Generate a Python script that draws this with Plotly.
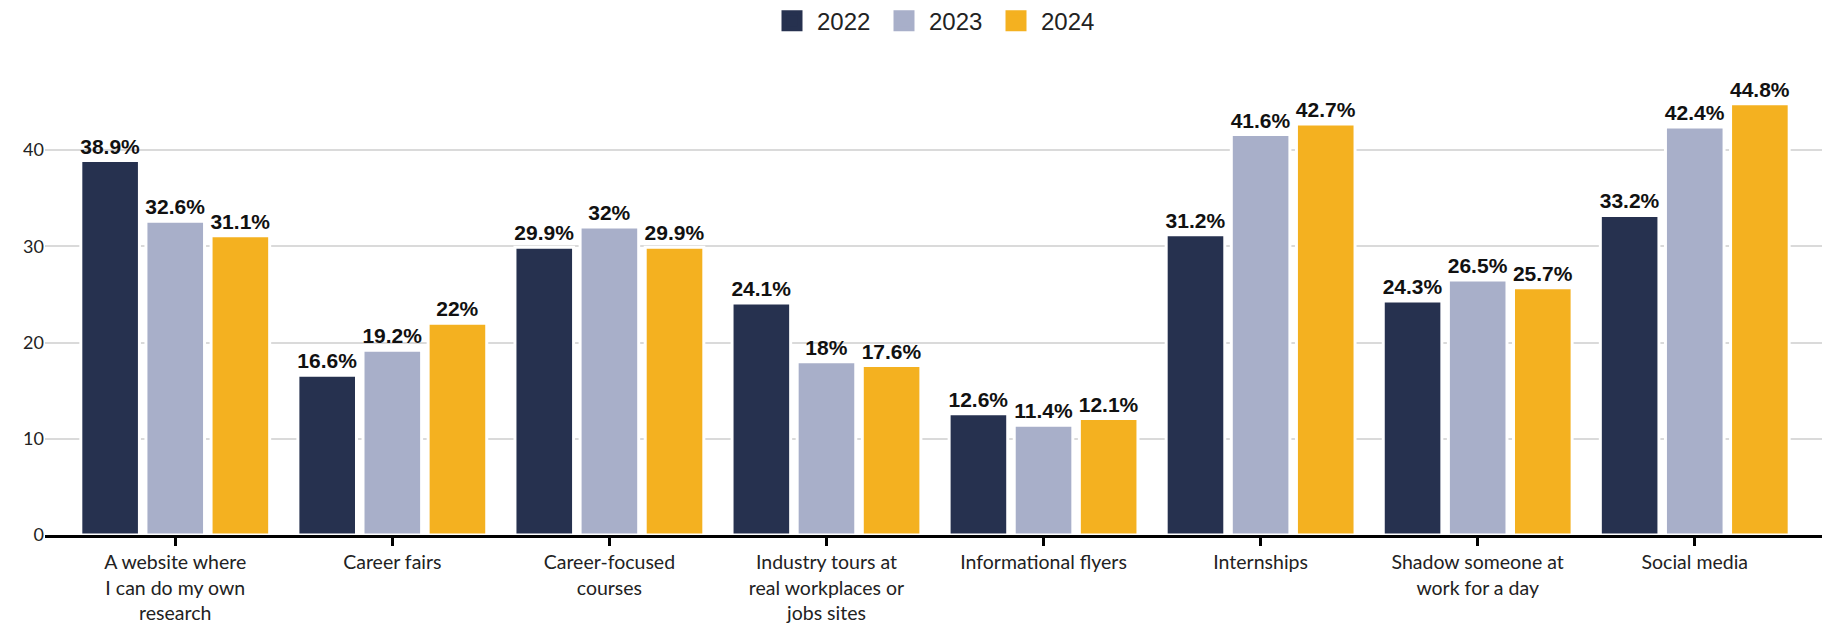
import plotly.graph_objects as go

categories = [
    "A website where<br>I can do my own<br>research",
    "Career fairs",
    "Career-focused<br>courses",
    "Industry tours at<br>real workplaces or<br>jobs sites",
    "Informational flyers",
    "Internships",
    "Shadow someone at<br>work for a day",
    "Social media",
]
years = ["2022", "2023", "2024"]
v2022 = [38.9, 16.6, 29.9, 24.1, 12.6, 31.2, 24.3, 33.2]
v2023 = [32.6, 19.2, 32.0, 18.0, 11.4, 41.6, 26.5, 42.4]
v2024 = [31.1, 22.0, 29.9, 17.6, 12.1, 42.7, 25.7, 44.8]
colors = ["#26314f", "#a8afc9", "#f4b120"]
y_ticks = [0, 10, 20, 30, 40]

def fmt(v):
    s = f"{v:.1f}"
    if s.endswith(".0"):
        s = s[:-2]
    return s + "%"

fig = go.Figure()
for name, vals, col in zip(years, [v2022, v2023, v2024], colors):
    fig.add_trace(go.Bar(
        x=list(range(len(categories))), y=vals, name=name,
        marker=dict(color=col, line=dict(color="white", width=3)),
        text=[fmt(v) for v in vals], textposition="outside",
        textfont=dict(family="Liberation Sans, Arial, sans-serif", size=21, color="#111"),
        texttemplate="<b>%{text}</b>",
        cliponaxis=False, constraintext="none",
        showlegend=False, hoverinfo="skip",
    ))
    fig.add_trace(go.Scatter(
        x=[None], y=[None], mode="markers", name=name,
        marker=dict(symbol="square", size=16, color=col, line=dict(color=col, width=5)),
        showlegend=True,
    ))

# page body adds an 8px offset; margins compensate so the plot area lands at
# x 45..1825, y 73..535 of the window
fig.update_layout(
    width=1830, height=623,
    margin=dict(l=37, r=13, t=65, b=96, autoexpand=False),
    paper_bgcolor="white", plot_bgcolor="white",
    barmode="group", bargap=0.1, bargroupgap=0.1,
    font=dict(family="Lato, sans-serif", color="#222"),
    legend=dict(orientation="h", x=0.5, xanchor="center", y=1.112, yanchor="middle",
                font=dict(family="Liberation Sans, Arial, sans-serif", size=24, color="#222"),
                itemwidth=40, entrywidth=57, entrywidthmode="pixels", tracegroupgap=0),
    xaxis=dict(
        tickmode="array", tickvals=list(range(len(categories))), ticktext=categories,
        range=[-0.6, 7.6], showgrid=False, zeroline=False,
        showline=True, linecolor="black", linewidth=3,
        ticks="outside", ticklen=8, tickwidth=2.5, tickcolor="black",
        tickfont=dict(family="Lato, sans-serif", size=19.5, color="#222"),
        automargin=False,
    ),
    yaxis=dict(
        range=[0, 48], tickvals=y_ticks, showgrid=True, gridcolor="#dadada", gridwidth=2,
        zeroline=False, showline=False, ticks="",
        tickfont=dict(family="Lato, sans-serif", size=18, color="#222"),
        automargin=False,
    ),
)

fig.write_html("out.html")
